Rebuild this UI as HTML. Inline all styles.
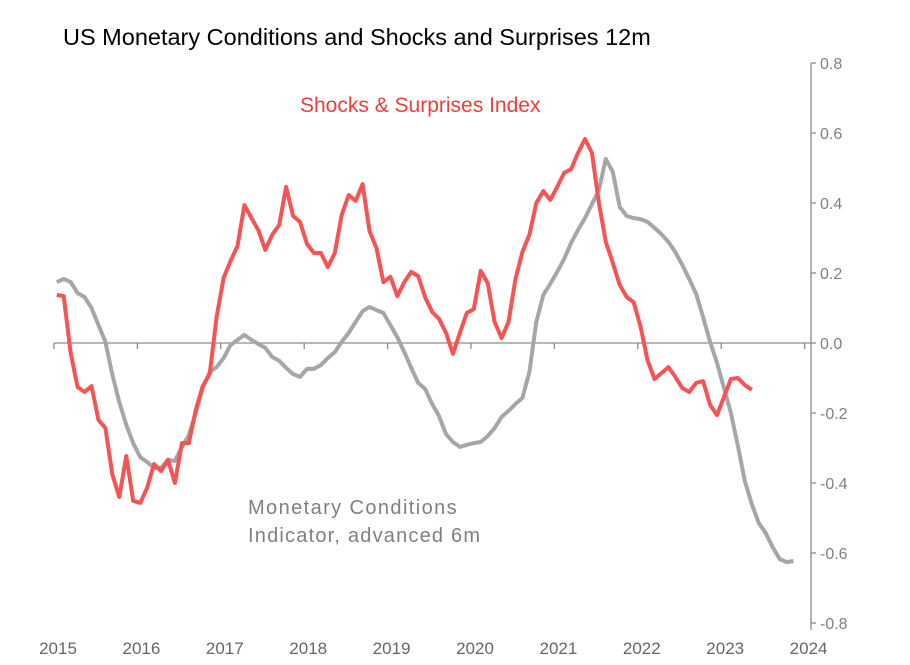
<!DOCTYPE html>
<html><head><meta charset="utf-8"><style>
html,body{margin:0;padding:0;background:#fff;}
svg text{font-family:"Liberation Sans",Arial,sans-serif;}
</style></head><body>
<svg id="chart" width="910" height="660" xmlns="http://www.w3.org/2000/svg">
<rect width="910" height="660" fill="#fff"/>
<text x="63" y="45" font-size="23.5" fill="#000">US Monetary Conditions and Shocks and Surprises 12m</text>
<text x="300" y="112" font-size="21" fill="#f03c3c">Shocks &amp; Surprises Index</text>
<text x="248" y="514" font-size="20" letter-spacing="1.4" fill="#808080">Monetary Conditions</text>
<text x="248" y="542" font-size="20" letter-spacing="1.2" fill="#808080">Indicator, advanced 6m</text>
<g id="axes"></g>
<g id="series"></g>
</svg>
<script>
const yTicks = [0.8,0.6,0.4,0.2,0.0,-0.2,-0.4,-0.6,-0.8];
const yTickLabels = ["0.8","0.6","0.4","0.2","0.0","-0.2","-0.4","-0.6","-0.8"];
const xYears = [2015,2016,2017,2018,2019,2020,2021,2022,2023,2024];
const seriesStart = 2015;
const shocksValues = [0.137,0.134,-0.029,-0.126,-0.14,-0.123,-0.22,-0.243,-0.377,-0.44,-0.323,-0.451,-0.457,-0.414,-0.346,-0.366,-0.334,-0.4,-0.286,-0.286,-0.191,-0.123,-0.089,0.074,0.186,0.234,0.277,0.394,0.357,0.323,0.266,0.309,0.337,0.446,0.363,0.346,0.283,0.257,0.257,0.217,0.257,0.366,0.423,0.406,0.454,0.32,0.271,0.174,0.189,0.134,0.174,0.203,0.191,0.131,0.089,0.069,0.029,-0.031,0.029,0.086,0.097,0.206,0.171,0.06,0.014,0.06,0.183,0.26,0.309,0.4,0.434,0.409,0.446,0.486,0.497,0.543,0.583,0.543,0.4,0.289,0.229,0.166,0.131,0.117,0.046,-0.049,-0.103,-0.086,-0.069,-0.097,-0.129,-0.14,-0.114,-0.109,-0.177,-0.206,-0.154,-0.103,-0.1,-0.12,-0.134];
const mciValues = [0.174,0.183,0.174,0.143,0.131,0.1,0.051,0.003,-0.091,-0.169,-0.234,-0.286,-0.326,-0.34,-0.357,-0.357,-0.334,-0.337,-0.297,-0.263,-0.2,-0.129,-0.083,-0.069,-0.043,-0.006,0.009,0.023,0.009,-0.003,-0.014,-0.04,-0.051,-0.071,-0.089,-0.097,-0.074,-0.074,-0.063,-0.043,-0.026,0.003,0.029,0.06,0.091,0.103,0.094,0.086,0.051,0.017,-0.026,-0.071,-0.114,-0.131,-0.174,-0.209,-0.26,-0.283,-0.297,-0.291,-0.286,-0.283,-0.266,-0.243,-0.211,-0.194,-0.174,-0.157,-0.083,0.06,0.137,0.169,0.203,0.24,0.286,0.323,0.357,0.397,0.437,0.526,0.489,0.389,0.363,0.357,0.354,0.346,0.329,0.311,0.289,0.26,0.223,0.183,0.14,0.074,0.003,-0.057,-0.129,-0.2,-0.294,-0.394,-0.46,-0.514,-0.543,-0.583,-0.617,-0.626,-0.623];

const NS="http://www.w3.org/2000/svg";
const X0=54, PX_PER_YEAR=83.4, Y_TOP=63, Y_BOT=623, VMAX=0.8, VMIN=-0.8, AXIS_X=811;
function xs(yr){return X0+(yr-2015)*PX_PER_YEAR;}
function ys(v){return Y_TOP+(VMAX-v)/(VMAX-VMIN)*(Y_BOT-Y_TOP);}
function monthDate(i){return seriesStart+(i+0.4)/12;}
function mk(tag,attrs,parent){const e=document.createElementNS(NS,tag);for(const k in attrs)e.setAttribute(k,attrs[k]);parent.appendChild(e);return e;}
const axes=document.getElementById('axes'), series=document.getElementById('series');

const yAxis=mk('line',{x1:AXIS_X,y1:Y_TOP,x2:AXIS_X,y2:Y_BOT+7,stroke:'#8c8c8c','stroke-width':1.3},axes);


yTicks.forEach((v,i)=>{
  const t=mk('line',{x1:AXIS_X,y1:ys(v),x2:AXIS_X+5,y2:ys(v),stroke:'#8c8c8c','stroke-width':1.3},axes);
  
  
  const l=mk('text',{x:AXIS_X+9,y:ys(v)+6,'font-size':16,fill:'#808080'},axes);
  l.textContent=yTickLabels[i];
  
  
});
const zl=mk('line',{x1:X0,y1:ys(0),x2:AXIS_X,y2:ys(0),stroke:'#8c8c8c','stroke-width':1.3},axes);


xYears.forEach(yr=>{
  const t=mk('line',{x1:xs(yr),y1:ys(0),x2:xs(yr),y2:ys(0)+6,stroke:'#8c8c8c','stroke-width':1.3},axes);
  
  
  const l=mk('text',{x:xs(yr)+4,y:654,'font-size':17,fill:'#666','text-anchor':'middle'},axes);
  l.textContent=String(yr);
  
  
});
function path(vals){return vals.map((v,i)=>(i?'L':'M')+xs(monthDate(i)).toFixed(1)+','+ys(v).toFixed(1)).join(' ');}
const mciLine=mk('path',{d:path(mciValues),fill:'none',stroke:'#a6a6a6','stroke-width':4,'stroke-linejoin':'round'},series);


const shockLine=mk('path',{d:path(shocksValues),fill:'none',stroke:'#f55454','stroke-width':4,'stroke-linejoin':'round'},series);


</script>
</body></html>
